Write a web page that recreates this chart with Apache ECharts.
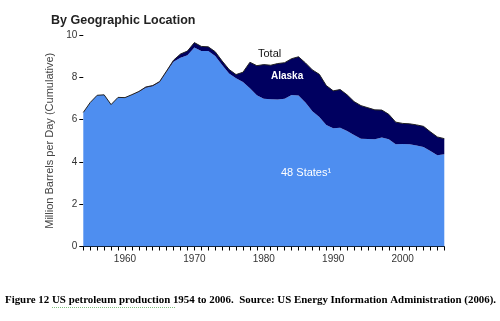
<!DOCTYPE html>
<html>
<head>
<meta charset="utf-8">
<script src="https://cdn.jsdelivr.net/npm/echarts@6/dist/echarts.min.js"></script>
<style>html,body{margin:0;padding:0;background:#fff}#c{width:500px;height:321px}</style>
</head>
<body>
<div id="c"></div>
<script>
var years = [];
for (var y = 1954; y <= 2006; y++) years.push(String(y));
var lower48 = [6.34,6.81,7.15,7.17,6.71,7.05,7.04,7.16,7.30,7.51,7.58,7.77,8.26,8.73,8.92,9.04,9.41,9.24,9.24,9.01,8.58,8.18,7.96,7.78,7.48,7.15,6.98,6.96,6.95,6.98,7.16,7.14,6.81,6.39,6.12,5.74,5.59,5.62,5.46,5.27,5.10,5.08,5.07,5.15,5.07,4.83,4.85,4.84,4.77,4.71,4.51,4.32,4.36];
var alaska = [0,0,0,0,0,0,0,0.02,0.03,0.03,0.03,0.03,0.04,0.08,0.18,0.20,0.23,0.22,0.20,0.20,0.19,0.19,0.17,0.46,1.23,1.40,1.62,1.61,1.70,1.71,1.72,1.83,1.87,1.96,2.02,1.87,1.77,1.80,1.71,1.58,1.56,1.48,1.39,1.30,1.18,1.05,0.97,0.96,0.98,0.97,0.91,0.86,0.74];
var yTicks = [0, 2, 4, 6, 8, 10];

var chart = echarts.init(document.getElementById('c'), null, {renderer: 'canvas'});
chart.setOption({
  animation: false,
  backgroundColor: '#fff',
  title: {
    text: 'By Geographic Location',
    left: 46, top: 9,
    textStyle: {fontFamily: 'Liberation Sans, Arial, sans-serif', fontSize: 12.5, fontWeight: 'bold', color: '#222'}
  },
  grid: {left: 83.3, right: 55.7, top: 35, bottom: 74.5, containLabel: false},
  xAxis: {
    type: 'category',
    data: years,
    boundaryGap: false,
    axisLine: {show: true, lineStyle: {color: '#000', width: 1}},
    axisTick: {show: true, interval: 0, length: 4, lineStyle: {color: '#000'}},
    axisLabel: {
      interval: function (i, v) { return Number(v) % 10 === 0; },
      margin: 8,
      fontFamily: 'Liberation Sans, Arial, sans-serif', fontSize: 10, color: '#333'
    },
    splitLine: {show: false}
  },
  yAxis: {
    type: 'value',
    min: 0, max: 10, interval: 2,
    name: 'Million Barrels per Day (Cumulative)',
    nameLocation: 'middle',
    nameRotate: 90,
    nameGap: 20,
    nameTextStyle: {fontFamily: 'Liberation Sans, Arial, sans-serif', fontSize: 11, color: '#444'},
    axisLine: {show: false},
    axisTick: {show: true, length: 4, lineStyle: {color: '#000'}},
    axisLabel: {
      margin: 6,
      fontFamily: 'Liberation Sans, Arial, sans-serif', fontSize: 10, color: '#333',
      formatter: function (v) { return yTicks.indexOf(v) >= 0 ? String(v) : ''; }
    },
    splitLine: {show: false}
  },
  series: [
    {
      name: '48 States',
      type: 'line',
      stack: 'total',
      data: lower48,
      symbol: 'none',
      lineStyle: {width: 0},
      areaStyle: {color: '#4e8ef0', opacity: 1}
    },
    {
      name: 'Alaska',
      type: 'line',
      stack: 'total',
      data: alaska,
      symbol: 'none',
      lineStyle: {width: 1, color: '#222'},
      areaStyle: {color: '#000060', opacity: 1}
    }
  ],
  graphic: [
    {type: 'text', z: 100, left: 258, top: 48, style: {text: 'Total', fill: '#111', font: '11px "Liberation Sans", Arial, sans-serif'}},
    {type: 'text', z: 100, left: 271, top: 71, style: {text: 'Alaska', fill: '#fff', font: 'bold 10px "Liberation Sans", Arial, sans-serif'}},
    {type: 'text', z: 100, left: 281, top: 167, style: {text: '48 States\u00b9', fill: '#fff', font: '11px "Liberation Sans", Arial, sans-serif'}},
    {type: 'text', z: 100, left: 5, top: 295, style: {text: 'Figure 12 US petroleum production 1954 to 2006.  Source: US Energy Information Administration (2006).', fill: '#000', font: 'bold 10.9px "Liberation Serif", "Times New Roman", serif'}},
    {type: 'line', z: 100, shape: {x1: 52, y1: 307.5, x2: 176, y2: 307.5}, style: {stroke: '#7fbf7f', lineWidth: 1, lineDash: [1, 1]}}
  ]
});
</script>
</body>
</html>
